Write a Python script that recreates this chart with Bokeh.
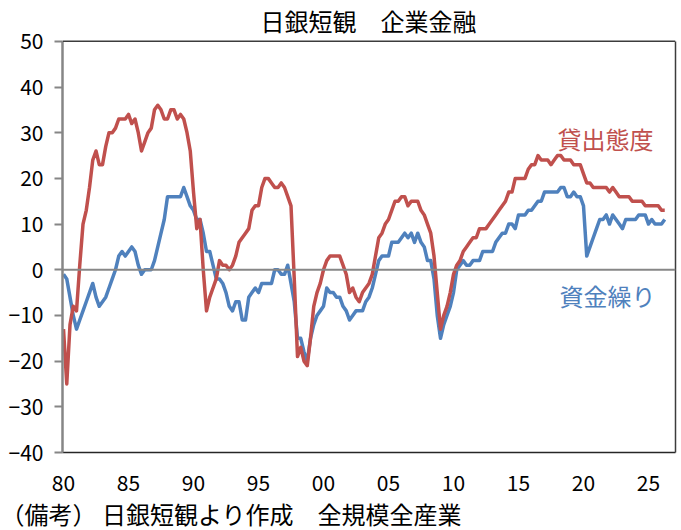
from bokeh.plotting import figure
from bokeh.models import Range1d, FixedTicker, Span, Label, Title, LinearAxis
from bokeh.embed import file_html
from bokeh.resources import INLINE

# Quarterly series, first point = 1980 Q1
lending = [
    -13, -25, -12, -8, -9, 1, 10, 13, 18, 24,
    26, 23, 23, 27, 30, 30, 31, 33, 33, 33,
    34, 32, 33, 30, 26, 28, 30, 31, 35, 36,
    35, 33, 33, 35, 35, 33, 34, 33, 30, 26,
    17, 9, 11, 0, -9, -6, -4, -2, 2, 1,
    1, 0, 1, 3, 6, 7, 8, 9, 13, 14,
    14, 18, 20, 20, 19, 18, 18, 19, 18, 16,
    14, -2, -19, -17, -20, -21, -15, -8, -5, -3,
    0, 2, 3, 3, 3, 3, 1, -1, -5, -4,
    -6, -7, -5, -4, -3, -1, 3, 7, 8, 10,
    11, 13, 15, 15, 16, 16, 14, 15, 15, 15,
    13, 12, 10, 8, 3, -5, -13, -10, -8, -5,
    -1, 1, 2, 4, 5, 6, 7, 7, 9, 9,
    9, 10, 11, 12, 13, 14, 15, 17, 17, 20,
    20, 20, 20, 22, 23, 23, 25, 24, 24, 24,
    23, 24, 25, 25, 24, 24, 24, 23, 23, 23,
    21, 19, 19, 18, 18, 18, 18, 18, 17, 18,
    17, 16, 16, 16, 16, 15, 15, 15, 15, 14,
    14, 14, 14, 14, 13, 13,
]
funding = [
    -1, -2, -6, -10, -13, -11, -9, -7, -5, -3,
    -6, -8, -7, -6, -4, -2, 0, 3, 4, 3,
    4, 5, 4, 1, -1, 0, 0, 0, 2, 5,
    8, 11, 16, 16, 16, 16, 16, 18, 16, 14,
    13, 11, 11, 8, 4, 4, 1, -2, -2, -3,
    -5, -8, -9, -7, -7, -11, -11, -6, -5, -4,
    -5, -3, -3, -3, -3, 0, 0, -1, -1, 1,
    -3, -7, -15, -15, -18, -20, -15, -12, -10, -9,
    -8, -4, -5, -5, -6, -6, -8, -9, -11, -10,
    -9, -9, -9, -7, -6, -4, -1, 2, 3, 3,
    3, 6, 6, 6, 7, 8, 7, 8, 6, 8,
    6, 5, 2, 2, -2, -10, -15, -12, -10, -8,
    -5, 0, 1, 2, 1, 1, 2, 2, 2, 4,
    4, 4, 4, 6, 7, 8, 8, 10, 10, 9,
    12, 12, 12, 13, 13, 14, 15, 15, 17, 17,
    17, 17, 17, 18, 18, 16, 16, 17, 16, 16,
    14, 3, 5, 7, 9, 11, 11, 12, 10, 12,
    11, 10, 9, 11, 11, 11, 11, 12, 12, 12,
    10, 11, 10, 10, 10, 11,
]
x_tick_pos = [0, 20, 40, 60, 80, 100, 120, 140, 160, 180]
x_tick_labels = ["80", "85", "90", "95", "00", "05", "10", "15", "20", "25"]
y_ticks = [-40, -30, -20, -10, 0, 10, 20, 30, 40, 50]
y_tick_labels = ["\u221240", "\u221230", "\u221220", "\u221210", "0", "10", "20", "30", "40", "50"]

title_text = "日銀短観\u3000企業金融"
note_text = "（備考） 日銀短観より作成\u3000全規模全産業"
name_lending = "貸出態度"
name_funding = "資金繰り"

RED = "#C0504D"
BLUE = "#4F81BD"
DARK = "#3c3c3c"
FONT = "Noto Sans CJK JP"

X0, X1 = -0.31, 188.31
Y0, Y1 = -40, 50
# plot box in page pixels
FL, FR, FT, FB = 62, 675, 41, 454
W, H = 681, 530


def px_x(px):
    return X0 + (px - FL) * (X1 - X0) / (FR - FL)


def px_y(py):
    return Y1 - (py - FT) * (Y1 - Y0) / (FB - FT)


xs = list(range(len(lending)))

# the frame reaches the top of the canvas so that the title can live in it;
# the visible box is drawn with axis bounds and a span at y = 50
p = figure(width=W, height=H, output_backend="svg", toolbar_location=None,
           title_location=None,
           x_range=Range1d(X0, X1), y_range=Range1d(Y0, px_y(0)),
           min_border=0, min_border_left=FL, min_border_right=W - FR,
           min_border_top=0, min_border_bottom=H - FB)
p.background_fill_color = "white"
p.border_fill_color = "white"
p.outline_line_color = None
p.xgrid.visible = False
p.ygrid.visible = False

p.xaxis.ticker = FixedTicker(ticks=x_tick_pos)
p.xaxis.major_label_overrides = dict(zip(x_tick_pos, x_tick_labels))
p.xaxis.major_tick_line_color = None
p.xaxis.minor_tick_line_color = None
p.xaxis.axis_line_color = "#262626"
p.xaxis.axis_line_width = 1.5
p.xaxis.major_label_standoff = 16

p.yaxis.ticker = FixedTicker(ticks=y_ticks)
p.yaxis.bounds = (Y0, Y1)
p.yaxis.major_label_overrides = dict(zip(y_ticks, y_tick_labels))
p.yaxis.major_tick_out = 8
p.yaxis.major_tick_in = 0
p.yaxis.major_tick_line_color = "#868686"
p.yaxis.major_tick_line_width = 2
p.yaxis.minor_tick_line_color = None
p.yaxis.axis_line_color = "#868686"
p.yaxis.axis_line_width = 2.5
p.yaxis.major_label_standoff = 11

for ax in (p.xaxis, p.yaxis):
    ax.major_label_text_font = FONT
    ax.major_label_text_font_size = "21px"
    ax.major_label_text_color = "black"

right_axis = LinearAxis(ticker=FixedTicker(ticks=[]), bounds=(Y0, Y1),
                        axis_line_color=DARK, axis_line_width=1.5,
                        major_tick_line_color=None, minor_tick_line_color=None,
                        major_label_text_font_size="0px")
p.add_layout(right_axis, "right")
p.add_layout(Span(location=Y1, dimension="width", line_color=DARK, line_width=1.5))

p.add_layout(Span(location=0, dimension="width", line_color="#878787", line_width=2))

p.line(xs, funding, line_color=BLUE, line_width=3.5, line_join="round")
p.line(xs, lending, line_color=RED, line_width=3.5, line_join="round")

p.add_layout(Label(x=px_x(368), y=px_y(20), text=title_text, text_align="center",
                   text_baseline="middle", text_font=FONT, text_font_size="24px",
                   text_color="black"))
p.add_layout(Label(x=px_x(557), y=px_y(139), text=name_lending, text_align="left",
                   text_baseline="middle", text_font=FONT, text_font_size="24px",
                   text_color=RED))
p.add_layout(Label(x=px_x(559), y=px_y(296), text=name_funding, text_align="left",
                   text_baseline="middle", text_font=FONT, text_font_size="24px",
                   text_color=BLUE))

note = Title(text=note_text, align="left", offset=-FL, text_font=FONT,
             text_font_size="24px", text_font_style="normal",
             text_color="black", standoff=0)
p.add_layout(note, "below")

open("out.html", "w").write(file_html(p, INLINE))
